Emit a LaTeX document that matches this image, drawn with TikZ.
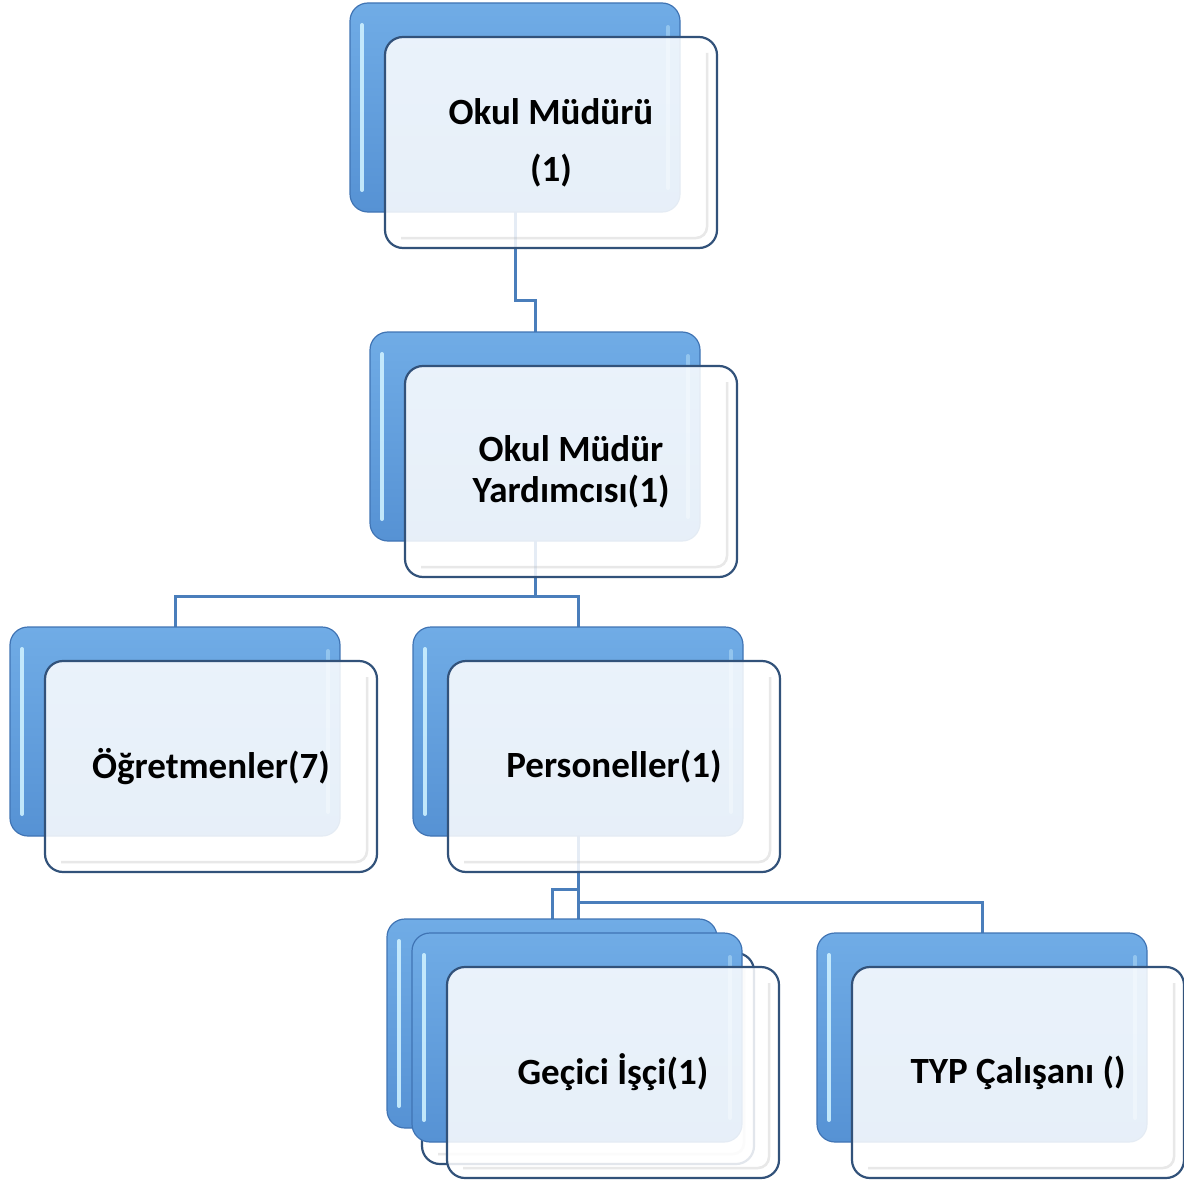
\documentclass[tikz,border=0pt]{standalone}
\usepackage{fontspec}
\setmainfont{Carlito}
\definecolor{connc}{RGB}{74,126,187}
\definecolor{backtop}{RGB}{112,172,230}
\definecolor{backbot}{RGB}{86,146,212}
\definecolor{backedge}{RGB}{64,116,180}
\definecolor{frontedge}{RGB}{50,82,122}
\definecolor{hlc}{RGB}{205,240,255}
\pgfdeclarelayer{bg}
\pgfsetlayers{bg,main}
\tikzset{
 backbox/.style={rectangle, rounded corners=18pt, minimum width=330pt, minimum height=209pt, anchor=north west, top color=backtop, bottom color=backbot, draw=backedge, line width=1.2pt, inner sep=0pt, outer sep=0pt},
 frontbox/.style={rectangle, rounded corners=18pt, minimum width=332pt, minimum height=211pt, anchor=north west, fill=white, fill opacity=0.86, text opacity=1, draw=frontedge, draw opacity=1, line width=2.2pt, inner sep=0pt, outer sep=0pt, align=center, font=\fontsize{37}{41}\selectfont\bfseries},
 conn/.style={draw=connc, line width=3pt},
 hl/.style={draw=hlc, line width=4pt, line cap=round, opacity=0.9},
 bevel/.style={draw=black!30, line width=2.5pt, opacity=0.3, rounded corners=11pt},
}
\newcommand\orgunit[5]{%
 \node[backbox] (#1) at (#3,-#4) {};
 \draw[hl] ([shift={(12pt,-22pt)}]#1.north west) -- ([shift={(12pt,22pt)}]#1.south west);
 \draw[hl, opacity=0.4] ([shift={(-12pt,-24pt)}]#1.north east) -- ([shift={(-12pt,24pt)}]#1.south east);
 \node[frontbox] (#2) at (#3+35,-#4-34) {#5};
 \draw[bevel] ([shift={(-10pt,-16pt)}]#2.north east) -- ([shift={(-10pt,10pt)}]#2.south east) -- ([shift={(16pt,10pt)}]#2.south west);
}
\begin{document}
\begin{tikzpicture}[x=1pt,y=1pt]
\useasboundingbox (0,0) rectangle (1184,-1180);
\orgunit{mb}{mf}{350}{3}{Okul Müdürü\\[16pt](1)}
\orgunit{yb}{yf}{370}{332}{Okul Müdür\\Yardımcısı(1)}
\orgunit{ob}{of}{10}{627}{Öğretmenler(7)}
\orgunit{pb}{pf}{413}{627}{Personeller(1)}
\orgunit{g1b}{g1f}{387}{919}{}
\orgunit{g2b}{g2f}{412}{933}{Geçici İşçi(1)}
\orgunit{tb}{tf}{817}{933}{TYP Çalışanı ()}
\begin{pgfonlayer}{bg}
\draw[conn] (mb.south) -- ++(0,-88) -| (yb.north);
\draw[conn] (yb.south) -- ++(0,-55) coordinate (j2) -| (ob.north);
\draw[conn] (j2) -| (pb.north);
\draw[conn] (pb.south) -- ++(0,-53) -| (g1b.north);
\draw[conn] (pb.south) -- (pb.south |- g2b.north);
\draw[conn] (pb.south) -- ++(0,-66) -| (tb.north);
\end{pgfonlayer}
\end{tikzpicture}
\end{document}
